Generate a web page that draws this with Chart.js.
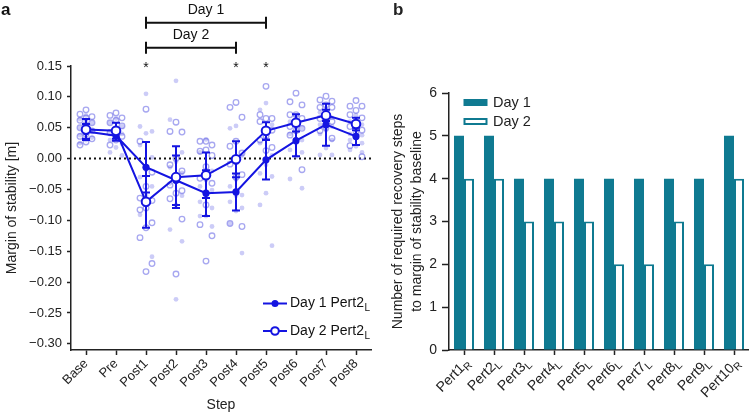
<!DOCTYPE html>
<html><head><meta charset="utf-8">
<script src="https://cdn.jsdelivr.net/npm/chart.js@4.4.0/dist/chart.umd.min.js"></script>
<style>
html,body{margin:0;padding:0;background:#fff;width:749px;height:415px;overflow:hidden}
#ca{position:absolute;left:0;top:0}
#cb{position:absolute;left:375px;top:0}
</style></head><body>
<canvas id="ca" width="380" height="415"></canvas>
<canvas id="cb" width="374" height="415"></canvas>
<script>
// ---------- Panel a data ----------
const steps = ['Base','Pre','Post1','Post2','Post3','Post4','Post5','Post6','Post7','Post8'];
const yTicksA = [0.15,0.10,0.05,0.00,-0.05,-0.10,-0.15,-0.20,-0.25,-0.30];
const day1Mean = [0.044,0.037,-0.014,-0.035,-0.056,-0.054,-0.002,0.029,0.055,0.036];
const day1SD   = [0.012,0.008,0.041,0.040,0.037,0.030,0.032,0.025,0.034,0.014];
const day2Mean = [0.047,0.045,-0.070,-0.030,-0.027,-0.001,0.045,0.058,0.070,0.056];
const day2SD   = [0.017,0.013,0.042,0.050,0.037,0.029,0.014,0.014,0.009,0.010];
const day1Ind = [
  [0.070,0.064,0.058,0.054,0.050,0.046,0.042,0.038,0.034,0.030,0.025],
  [0.065,0.058,0.052,0.048,0.044,0.040,0.036,0.030,0.024,0.018,0.010,0.005],
  [0.105,0.052,0.044,0.041,0.022,0.002,-0.018,-0.030,-0.045,-0.060,-0.091,-0.159],
  [0.126,0.063,0.010,-0.005,-0.014,-0.023,-0.030,-0.040,-0.060,-0.075,-0.115,-0.134,-0.228],
  [0.031,0.010,-0.020,-0.035,-0.045,-0.051,-0.060,-0.070,-0.080,-0.093,-0.093,-0.110],
  [0.053,0.049,0.005,-0.034,-0.045,-0.059,-0.060,-0.070,-0.080,-0.085,-0.105,-0.153],
  [0.090,0.079,0.055,0.040,0.025,0.005,-0.010,-0.024,-0.029,-0.056,-0.075,-0.141],
  [0.070,0.060,0.050,0.044,0.040,0.030,0.025,0.014,0.010,0.003,-0.033,-0.048],
  [0.079,0.075,0.066,0.060,0.055,0.052,0.046,0.040,0.030,0.017,0.006,0.006],
  [0.070,0.060,0.055,0.048,0.040,0.038,0.035,0.030,0.025,0.020,0.014,0.010]
];
const day2Ind = [
  [0.079,0.072,0.068,0.066,0.062,0.058,0.055,0.050,0.045,0.040,0.036,0.032,0.027,0.022],
  [0.074,0.070,0.066,0.062,0.058,0.053,0.048,0.042,0.036,0.030,0.022],
  [0.080,0.028,-0.022,-0.045,-0.064,-0.068,-0.080,-0.083,-0.104,-0.112,-0.128,-0.170,-0.183],
  [0.059,0.044,0.043,0.000,-0.010,-0.020,-0.035,-0.043,-0.052,-0.056,-0.065,-0.098,-0.187],
  [0.028,0.028,0.022,0.014,0.012,0.005,-0.013,-0.032,-0.040,-0.075,-0.107,-0.125,-0.166],
  [0.091,0.083,0.067,0.028,0.020,0.009,-0.005,-0.009,-0.026,-0.030,-0.105,-0.110],
  [0.117,0.071,0.065,0.065,0.060,0.046,0.037,0.030,0.018,0.013],
  [0.106,0.092,0.087,0.071,0.071,0.065,0.060,0.052,0.049,0.045,0.038,-0.018],
  [0.101,0.095,0.093,0.087,0.083,0.083,0.071,0.065,0.060,0.050,0.045,0.033],
  [0.094,0.085,0.085,0.078,0.071,0.066,0.060,0.052,0.046,0.040,0.021,0.003]
];
const sigSteps = ['Post1','Post4','Post5'];
const brackets = [
  {label:'Day 1', from:'Post1', to:'Post5'},
  {label:'Day 2', from:'Post1', to:'Post4'}
];
const legendA = [{text:'Day 1 Pert2', sub:'L', filled:true},{text:'Day 2 Pert2', sub:'L', filled:false}];

// ---------- Panel b data ----------
const perts = ['Pert1','Pert2','Pert3','Pert4','Pert5','Pert6','Pert7','Pert8','Pert9','Pert10'];
const pertSides = ['R','L','L','L','L','L','L','L','L','R'];
const day1Steps = [5,5,4,4,4,4,4,4,4,5];
const day2Steps = [4,4,3,3,3,2,2,3,2,4];
const yTicksB = [0,1,2,3,4,5,6];
const seriesB = ['Day 1','Day 2'];

// ---------- styles ----------
const FONT = '"Liberation Sans", Arial, Helvetica, sans-serif';
Chart.defaults.font.family = FONT;
Chart.defaults.color = '#222';
const BLUE = 'rgb(20,20,225)';
const TEAL = '#0f7a91';
const AX = '#222';
const jit = [0, -0.2, 0.2];

const pts = (arr) => arr.flatMap((vals, i) => vals.map((v, k) => ({x: i + jit[k % 3], y: v})));
const fmt = v => (Math.abs(v) < 1e-9 ? '0.00' : v.toFixed(2)).replace('-', '\u2212');

const plugA = {
  id: 'plugA',
  beforeDatasetsDraw(chart) {
    const {ctx, chartArea, scales: {y}} = chart;
    const y0 = y.getPixelForValue(0);
    ctx.save();
    ctx.setLineDash([2, 3]);
    ctx.lineWidth = 2;
    ctx.strokeStyle = '#111';
    ctx.beginPath();
    ctx.moveTo(chartArea.left + 3, y0);
    ctx.lineTo(chartArea.right, y0);
    ctx.stroke();
    ctx.restore();
  },
  afterDatasetDraw(chart, args) {
    if (args.index !== 2) return;
    const {ctx, scales: {x, y}} = chart;
    ctx.save();
    ctx.strokeStyle = BLUE;
    ctx.lineWidth = 2;
    [[day1Mean, day1SD], [day2Mean, day2SD]].forEach(([m, s]) => {
      m.forEach((v, i) => {
        const px = x.getPixelForValue(i);
        const t = y.getPixelForValue(v + s[i]);
        const b = y.getPixelForValue(v - s[i]);
        ctx.beginPath();
        ctx.moveTo(px, t); ctx.lineTo(px, b);
        ctx.moveTo(px - 4, t); ctx.lineTo(px + 4, t);
        ctx.moveTo(px - 4, b); ctx.lineTo(px + 4, b);
        ctx.stroke();
      });
    });
    ctx.restore();
  },
  afterDraw(chart) {
    const {ctx, scales: {x, y}} = chart;
    ctx.save();
    ctx.fillStyle = '#111';
    ctx.font = '14px ' + FONT;
    ctx.textAlign = 'center';
    ctx.textBaseline = 'top';
    sigSteps.forEach(s => {
      ctx.fillText('*', x.getPixelForValue(steps.indexOf(s)), y.getPixelForValue(0.15) - 5);
    });
    const by = [22.7, 47.7];
    ctx.strokeStyle = '#111';
    ctx.lineWidth = 2;
    ctx.textBaseline = 'middle';
    brackets.forEach((b, k) => {
      const x1 = x.getPixelForValue(steps.indexOf(b.from));
      const x2 = x.getPixelForValue(steps.indexOf(b.to));
      ctx.beginPath();
      ctx.moveTo(x1, by[k]); ctx.lineTo(x2, by[k]);
      ctx.moveTo(x1, by[k] - 6); ctx.lineTo(x1, by[k] + 6);
      ctx.moveTo(x2, by[k] - 6); ctx.lineTo(x2, by[k] + 6);
      ctx.stroke();
      ctx.font = '14px ' + FONT;
      ctx.fillText(b.label, (x1 + x2) / 2, by[k] - 13);
    });
    const ly = [303.5, 331];
    legendA.forEach((e, k) => {
      ctx.strokeStyle = BLUE; ctx.lineWidth = 2;
      ctx.beginPath(); ctx.moveTo(263, ly[k]); ctx.lineTo(287, ly[k]); ctx.stroke();
      ctx.beginPath();
      if (e.filled) { ctx.fillStyle = BLUE; ctx.arc(275, ly[k], 3.5, 0, Math.PI * 2); ctx.fill(); }
      else { ctx.fillStyle = '#fff'; ctx.arc(275, ly[k], 3.8, 0, Math.PI * 2); ctx.fill(); ctx.stroke(); }
      ctx.fillStyle = '#111';
      ctx.textAlign = 'left';
      ctx.textBaseline = 'middle';
      ctx.font = '14px ' + FONT;
      ctx.fillText(e.text, 290, ly[k]);
      const w = ctx.measureText(e.text).width;
      ctx.font = '10px ' + FONT;
      ctx.fillText(e.sub, 290 + w + 0.5, ly[k] + 5);
    });
    ctx.font = 'bold 17px ' + FONT;
    ctx.textAlign = 'left';
    ctx.textBaseline = 'middle';
    ctx.fillText('a', 1, 10);
    ctx.restore();
  }
};

new Chart(document.getElementById('ca'), {
  type: 'line',
  data: {
    datasets: [
      {label: 'Day 2', data: day2Mean.map((v, i) => ({x: i, y: v})), borderColor: BLUE, borderWidth: 2,
       pointRadius: 4.3, pointBackgroundColor: '#fff', pointBorderColor: BLUE, pointBorderWidth: 2, tension: 0, fill: false},
      {label: 'Day 1', data: day1Mean.map((v, i) => ({x: i, y: v})), borderColor: BLUE, borderWidth: 2,
       pointRadius: 3.6, pointBackgroundColor: BLUE, pointBorderColor: BLUE, pointBorderWidth: 0, tension: 0, fill: false},
      {type: 'scatter', label: 'Day 2 ind', data: pts(day2Ind), showLine: false, pointRadius: 2.8,
       pointBackgroundColor: 'rgba(0,0,0,0)', pointBorderColor: 'rgba(95,95,228,0.55)', pointBorderWidth: 1.3},
      {type: 'scatter', label: 'Day 1 ind', data: pts(day1Ind), showLine: false, pointRadius: 2.4,
       pointBackgroundColor: 'rgba(110,110,232,0.35)', pointBorderWidth: 0}
    ]
  },
  options: {
    responsive: false, animation: false, devicePixelRatio: 1,
    layout: {padding: {top: 66, right: 9, left: 0, bottom: 0}},
    plugins: {legend: {display: false}, tooltip: {enabled: false}},
    scales: {
      x: {
        type: 'linear', min: -0.5, max: 9.5,
        afterBuildTicks: s => { s.ticks = steps.map((_, i) => ({value: i})); },
        afterFit: s => { s.height = 65; },
        ticks: {callback: v => steps[v], minRotation: 45, maxRotation: 45, autoSkip: false, padding: 1, font: {size: 13}, color: '#222'},
        grid: {drawOnChartArea: false, drawTicks: true, tickLength: 5, color: AX, tickWidth: 1.5},
        border: {color: AX, width: 1.5},
        title: {display: true, text: 'Step', font: {size: 14}, color: '#222', padding: {top: 0, bottom: 1}}
      },
      y: {
        min: -0.31, max: 0.15,
        afterBuildTicks: s => { s.ticks = yTicksA.map(v => ({value: v})); },
        afterFit: s => { s.width = 71; },
        ticks: {callback: v => fmt(v), padding: 5, font: {size: 13}, color: '#222'},
        grid: {drawOnChartArea: false, drawTicks: true, tickLength: 4, color: AX, tickWidth: 1.5},
        border: {color: AX, width: 1.5},
        title: {display: true, text: 'Margin of stability [m]', font: {size: 14}, color: '#222', padding: {top: 4, bottom: 0}}
      }
    }
  },
  plugins: [plugA]
});

// ---------- Panel b ----------
const plugB = {
  id: 'plugB',
  afterDraw(chart) {
    const {ctx, scales: {x}} = chart;
    ctx.save();
    ctx.fillStyle = '#222';
    perts.forEach((p, i) => {
      const px = x.getPixelForValue(i);
      ctx.save();
      ctx.translate(px + 4, 361);
      ctx.rotate(-Math.PI / 4);
      ctx.font = '14px ' + FONT;
      const wm = ctx.measureText(p).width;
      ctx.font = '10.5px ' + FONT;
      const ws = ctx.measureText(pertSides[i]).width;
      ctx.textBaseline = 'middle';
      ctx.textAlign = 'left';
      ctx.font = '14px ' + FONT;
      ctx.fillText(p, -(wm + ws), 0);
      ctx.font = '10.5px ' + FONT;
      ctx.fillText(pertSides[i], -ws, 4);
      ctx.restore();
    });
    ctx.fillStyle = TEAL;
    ctx.fillRect(88.5, 99, 24, 7);
    ctx.strokeStyle = TEAL; ctx.lineWidth = 2;
    ctx.fillStyle = '#fff';
    ctx.fillRect(89.5, 119, 22, 5);
    ctx.strokeRect(89.5, 119, 22, 5);
    ctx.fillStyle = '#222';
    ctx.font = '14.5px ' + FONT;
    ctx.textAlign = 'left'; ctx.textBaseline = 'middle';
    ctx.fillText(seriesB[0], 118, 103);
    ctx.fillText(seriesB[1], 118, 122);
    ctx.font = 'bold 17px ' + FONT;
    ctx.fillText('b', 18, 10);
    ctx.restore();
  }
};

new Chart(document.getElementById('cb'), {
  type: 'bar',
  data: {
    labels: perts,
    datasets: [
      {label: seriesB[0], data: day1Steps, backgroundColor: TEAL, borderWidth: 0, barPercentage: 1, categoryPercentage: 0.667},
      {label: seriesB[1], data: day2Steps, backgroundColor: '#fff', borderColor: TEAL, borderWidth: 2, barPercentage: 1, categoryPercentage: 0.667}
    ]
  },
  options: {
    responsive: false, animation: false, devicePixelRatio: 1,
    layout: {padding: {top: 93, right: 0, left: 0, bottom: 0}},
    plugins: {legend: {display: false}, tooltip: {enabled: false}},
    scales: {
      x: {
        afterFit: s => { s.height = 65; },
        ticks: {callback: () => '', autoSkip: false, maxRotation: 0},
        grid: {offset: false, drawOnChartArea: false, drawTicks: true, tickLength: 5, color: AX, tickWidth: 1.5},
        border: {color: AX, width: 1.5}
      },
      y: {
        min: 0, max: 6,
        afterBuildTicks: s => { s.ticks = yTicksB.map(v => ({value: v})); },
        afterFit: s => { s.width = 74; },
        ticks: {padding: 5, font: {size: 14}, color: '#222'},
        grid: {drawOnChartArea: false, drawTicks: true, tickLength: 7, color: AX, tickWidth: 1.5},
        border: {color: AX, width: 1.5},
        title: {display: true, text: ['Number of required recovery steps', 'to margin of stability baseline'],
                font: {size: 14, lineHeight: 1.36}, color: '#222', padding: {top: 14, bottom: 0}}
      }
    }
  },
  plugins: [plugB]
});
</script>
</body></html>
